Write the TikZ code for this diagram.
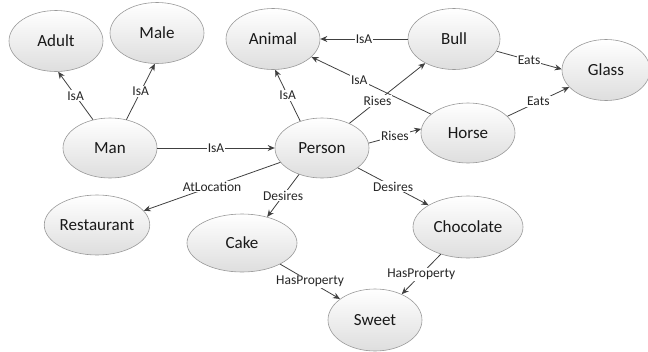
\documentclass[tikz,border=0pt]{standalone}
\usepackage{fontspec}
\setmainfont{Carlito}
\usetikzlibrary{shapes.geometric,arrows.meta}
\begin{document}
\begin{tikzpicture}[x=1pt,y=-1pt,
  concept/.style={ellipse,draw=black!40,line width=0.6pt,top color=white,bottom color=black!13,
    inner sep=0pt,text=black!90,font=\fontsize{17}{20}\selectfont,minimum height=61pt},
  rel/.style={draw=black!75,line width=0.8pt,-{Stealth[length=7pt,width=6pt]}},
  lab/.style={fill=white,inner sep=1pt,text=black!85,font=\fontsize{13.5}{16}\selectfont}]
\useasboundingbox (0,0) rectangle (648,351);
\node[concept,minimum width=94pt] (adult) at (56,41) {Adult};
\node[concept,minimum width=94pt] (male) at (157,33) {Male};
\node[concept,minimum width=94pt] (animal) at (273,39) {Animal};
\node[concept,minimum width=92pt] (bull) at (454,39) {Bull};
\node[concept,minimum width=88pt] (glass) at (606,70) {Glass};
\node[concept,minimum width=94pt,minimum height=60pt] (horse) at (468,133) {Horse};
\node[concept,minimum width=94pt,minimum height=60pt] (man) at (110,148) {Man};
\node[concept,minimum width=94pt,minimum height=60pt] (person) at (322,148) {Person};
\node[concept,minimum width=98pt,minimum height=60pt] (restaurant) at (97,225) {Restaurant};
\node[concept,minimum width=110pt,minimum height=58pt] (cake) at (242,243) {Cake};
\node[concept,minimum width=110pt,minimum height=62pt] (chocolate) at (468,227) {Chocolate};
\node[concept,minimum width=94pt,minimum height=62pt] (sweet) at (375,320) {Sweet};

\draw[rel] (man.121) -- node[lab] {IsA} (adult.-86);
\draw[rel] (man.60) -- node[lab] {IsA} (male.-94);
\draw[rel] (man.0) -- node[lab] {IsA} (person.180);
\draw[rel] (person.129) -- node[lab] {IsA} (animal.-86);
\draw[rel] (bull.180) -- node[lab] {IsA} (animal.0);
\draw[rel] (horse.153) -- node[lab,pos=0.6] {IsA} (animal.-25);
\draw[rel] (person.42) -- node[lab,pos=0.37] {Rises} (bull.-140);
\draw[rel] (person.6) -- node[lab] {Rises} (horse.175);
\draw[rel] (bull.-16) -- node[lab] {Eats} (glass.179);
\draw[rel] (horse.23) -- node[lab] {Eats} (glass.-155);
\draw[rel] (person.-161) -- node[lab] {AtLocation} (restaurant.17);
\draw[rel] (person.-131) -- node[lab] {Desires} (cake.46);
\draw[rel] (person.-29) -- node[lab] {Desires} (chocolate.151);
\draw[rel] (cake.-29) -- node[lab] {HasProperty} (sweet.149);
\draw[rel] (chocolate.-135) -- node[lab] {HasProperty} (sweet.44);
\end{tikzpicture}
\end{document}
